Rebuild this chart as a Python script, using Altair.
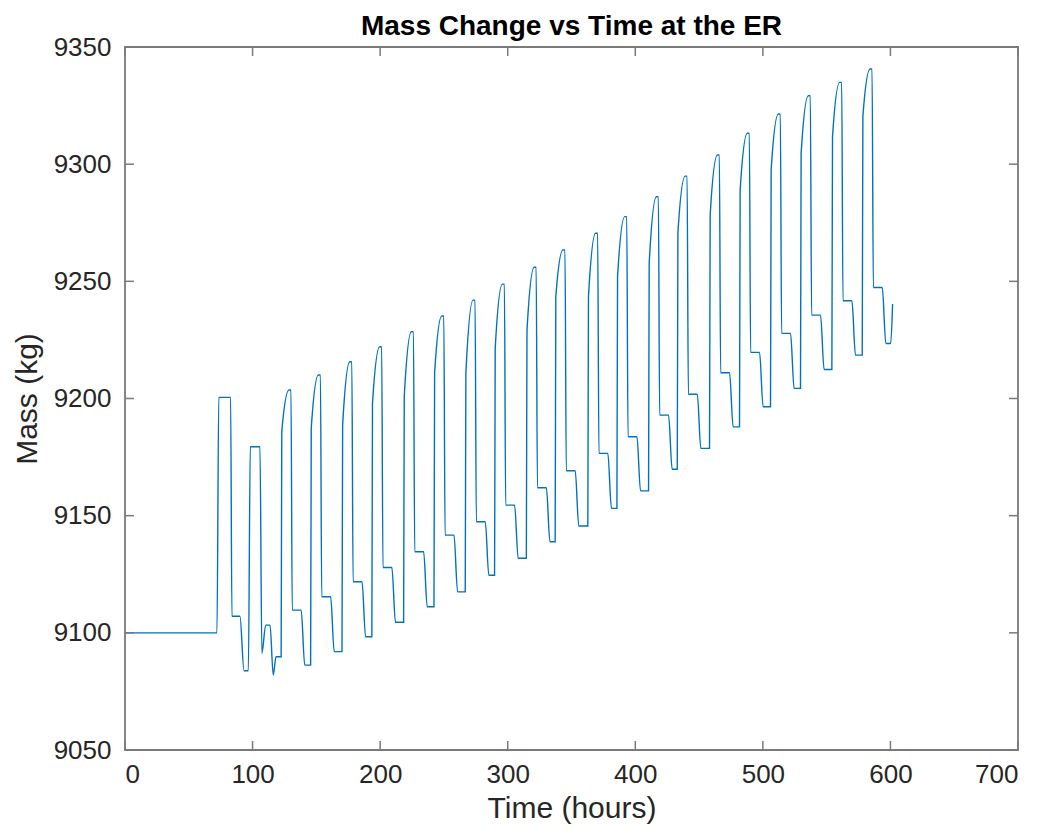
import altair as alt
import pandas as pd

# --- values ---
# start-up section (hours, kg)
start_time = [0.0, 72.1, 73.5, 82.8, 83.8, 90.1, 93.3, 96.7, 98.2, 105.8,
              107.3, 110.3, 113.7, 116.2, 118.4, 120.2]
start_mass = [9100.0, 9100.0, 9200.5, 9200.5, 9107.1, 9107.1, 9083.8, 9083.8,
              9179.4, 9179.4, 9091.2, 9103.3, 9103.3, 9082.0, 9089.8, 9089.8]

# daily cycles: peak time, peak mass, mass where the rise bends, step level, trough level
peak_time = [129.3, 152.4, 177.0, 200.4, 225.3, 249.1, 273.6, 296.6, 321.5, 344.1,
             369.7, 392.5, 417.3, 439.8, 465.1, 488.6, 512.9, 536.4, 561.0, 584.8]
peak_mass = [9203.6, 9210.0, 9215.7, 9222.1, 9228.5, 9235.2, 9242.0, 9248.8, 9256.0, 9263.4,
             9270.5, 9277.6, 9286.1, 9294.9, 9303.9, 9313.2, 9321.4, 9329.2, 9334.9, 9340.6]
kink_mass = [9185.8, 9187.4, 9188.7, 9197.9, 9200.8, 9210.9, 9210.7, 9221.5, 9229.0, 9243.4,
             9243.4, 9252.0, 9257.7, 9270.5, 9278.3, 9289.0, 9297.5, 9304.6, 9311.7, 9320.3]
step_mass = [9109.7, 9115.4, 9121.8, 9127.9, 9134.6, 9141.7, 9147.4, 9154.5, 9161.9, 9169.2,
             9176.6, 9183.7, 9192.9, 9201.8, 9211.0, 9219.7, 9227.8, 9235.6, 9241.7, 9247.4]
trough_mass = [9086.2, 9092.0, 9098.3, 9104.5, 9111.1, 9117.5, 9124.6, 9131.8, 9138.9, 9145.6,
               9153.1, 9160.6, 9169.8, 9178.7, 9187.9, 9196.5, 9204.3, 9212.4, 9218.5, 9223.5]

# end of the record
end_time = [600.2, 601.7]
end_mass = [9223.5, 9240.3]

x_ticks = [0, 100, 200, 300, 400, 500, 600, 700]
y_ticks = [9050, 9100, 9150, 9200, 9250, 9300, 9350]

# --- build the polyline table ---
rows = list(zip(start_time, start_mass))
prev = start_mass[-1]
for p, pk, kk, st, tr in zip(peak_time, peak_mass, kink_mass, step_mass, trough_mass):
    rows += [(p - 6.9, prev), (p - 6.4, kk), (p - 0.8, pk), (p + 0.8, pk),
             (p + 1.8, st), (p + 8.8, st), (p + 11.6, tr)]
    prev = tr
rows += list(zip(end_time, end_mass))
df = pd.DataFrame(rows, columns=["t", "m"])

W, H = 893, 703
FONT = "Liberation Sans"
FRAME = "#7a7a7a"
TXT = "#262626"

xs = alt.Scale(domain=[0, 700], nice=False, zero=False)
ys = alt.Scale(domain=[9050, 9350], nice=False, zero=False)

x_axis = alt.Axis(values=x_ticks, format="d", title="Time (hours)", domain=False, ticks=False,
                  grid=False, labelFontSize=26, labelPadding=11, labelFont=FONT, labelColor=TXT,
                  titleFontSize=30, titleFont=FONT, titleFontWeight="normal", titleColor=TXT,
                  titlePadding=6)
y_axis = alt.Axis(values=y_ticks, format="d", title="Mass (kg)", domain=False, ticks=False,
                  grid=False, labelFontSize=26, labelPadding=14, labelFont=FONT, labelColor=TXT,
                  titleFontSize=30, titleFont=FONT, titleFontWeight="normal", titleColor=TXT,
                  titlePadding=11)

line = alt.Chart(df).mark_line(color="#0072BD", strokeWidth=1.4, interpolate="monotone").encode(
    x=alt.X("t:Q", scale=xs, axis=x_axis),
    y=alt.Y("m:Q", scale=ys, axis=y_axis),
)

xt = pd.DataFrame({"t": x_ticks})
yt = pd.DataFrame({"m": y_ticks})
TL = 9

xb = alt.Chart(xt).mark_rule(color=FRAME, strokeWidth=1.5).encode(
    x=alt.X("t:Q", scale=xs, axis=x_axis), y=alt.value(H), y2=alt.value(H - TL))
xtop = alt.Chart(xt).mark_rule(color=FRAME, strokeWidth=1.5).encode(
    x=alt.X("t:Q", scale=xs, axis=x_axis), y=alt.value(0), y2=alt.value(TL))
yl = alt.Chart(yt).mark_rule(color=FRAME, strokeWidth=1.5).encode(
    y=alt.Y("m:Q", scale=ys, axis=y_axis), x=alt.value(0), x2=alt.value(TL))
yr = alt.Chart(yt).mark_rule(color=FRAME, strokeWidth=1.5).encode(
    y=alt.Y("m:Q", scale=ys, axis=y_axis), x=alt.value(W), x2=alt.value(W - TL))

chart = alt.layer(line, xb, xtop, yl, yr).properties(
    width=W, height=H,
    title=alt.TitleParams("Mass Change vs Time at the ER", fontSize=28, font=FONT,
                          fontWeight="bold", color="#000000", anchor="middle", offset=-7),
    autosize=alt.AutoSizeParams(type="none"),
    padding={"left": 117, "top": 39, "right": 22, "bottom": 80},
).configure_view(stroke=FRAME, strokeWidth=1.8)

chart.save("out.html", embed_options={"renderer": "svg", "actions": False})
